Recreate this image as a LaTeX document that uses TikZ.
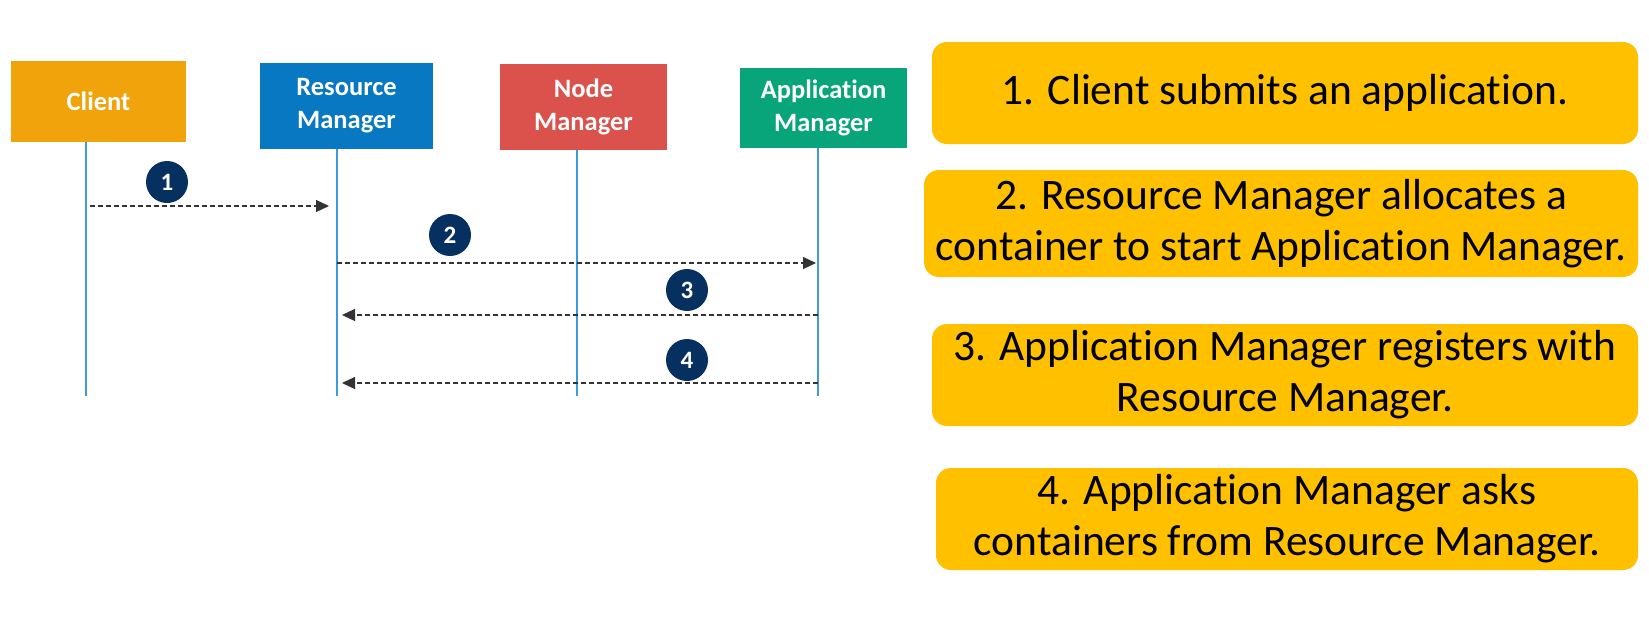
\documentclass[tikz,border=0pt]{standalone}
\usepackage{fontspec}
\setmainfont[Ligatures=NoCommon]{Carlito}
\usetikzlibrary{arrows.meta}
\definecolor{cOrange}{HTML}{F0A30A}
\definecolor{cBlue}{HTML}{0778C1}
\definecolor{cRed}{HTML}{DB514B}
\definecolor{cGreen}{HTML}{08A57A}
\definecolor{cNavy}{HTML}{06305F}
\definecolor{cGold}{HTML}{FFC000}
\definecolor{cLife}{HTML}{3D9BD9}
\definecolor{cArrow}{HTML}{333333}
\begin{document}
\begin{tikzpicture}[x=1pt,y=-1pt,
  actor/.style={inner sep=0pt, align=center, text=white,
    font=\fontsize{26.5}{33}\selectfont\bfseries},
  lifeline/.style={draw=cLife, line width=1.2pt},
  msg/.style={draw=cArrow, line width=1.2pt, dash pattern=on 5pt off 3pt,
    -{Triangle[length=13pt,width=12pt]}},
  stepnum/.style={circle, fill=cNavy, minimum size=42pt, inner sep=0pt,
    text=white, font=\fontsize{25}{25}\selectfont\bfseries},
  note/.style={fill=cGold, rounded corners=15pt, inner sep=0pt, align=center,
    font=\fontsize{43.5}{51}\selectfont}]
\useasboundingbox[fill=white] (0,0) rectangle (1649,627);

% actors
\node[actor, fill=cOrange, minimum width=175, minimum height=81] (client) at (98.5,101.5) {Client};
\node[actor, fill=cBlue, minimum width=173, minimum height=86] (rm) at (346.5,106) {Resource\\Manager};
\node[actor, fill=cRed, minimum width=167, minimum height=86] (nm) at (583.5,107) {Node\\Manager};
\node[actor, fill=cGreen, minimum width=167, minimum height=80] (am) at (823.5,108) {Application\\Manager};

% lifeline ends
\coordinate (clEnd) at (86,396);
\coordinate (rmEnd) at (337,396);
\coordinate (nmEnd) at (577,396);
\coordinate (amEnd) at (818,396);
\draw[lifeline] (client.south -| clEnd) -- (clEnd);
\draw[lifeline] (rm.south -| rmEnd) -- (rmEnd);
\draw[lifeline] (nm.south -| nmEnd) -- (nmEnd);
\draw[lifeline] (am.south -| amEnd) -- (amEnd);

% message end points
\coordinate (m1s) at (90,206);  \coordinate (m1e) at (329,206);
\coordinate (m2s) at (337,263); \coordinate (m2e) at (816,263);
\coordinate (m3s) at (818,315); \coordinate (m3e) at (342,315);
\coordinate (m4s) at (818,383); \coordinate (m4e) at (342,383);
\draw[msg] (m1s) -- (m1e);
\draw[msg] (m2s) -- (m2e);
\draw[msg] (m3s) -- (m3e);
\draw[msg] (m4s) -- (m4e);

% step numbers
\node[stepnum] (n1) at (167,182) {1};
\node[stepnum] (n2) at (450,235) {2};
\node[stepnum] (n3) at (687,290) {3};
\node[stepnum] (n4) at (687,360) {4};

% notes
\node[note, minimum width=706, minimum height=102] (t1) at (1285,93) {1. Client submits an application.};
\node[note, minimum width=714, minimum height=107] (t2) at (1281,223.5) {2. Resource Manager allocates a\\container to start Application Manager.};
\node[note, minimum width=706, minimum height=102] (t3) at (1285,375) {3. Application Manager registers with\\Resource Manager.};
\node[note, minimum width=702, minimum height=102] (t4) at (1287,519) {4. Application Manager asks\\containers from Resource Manager.};
\end{tikzpicture}
\end{document}
